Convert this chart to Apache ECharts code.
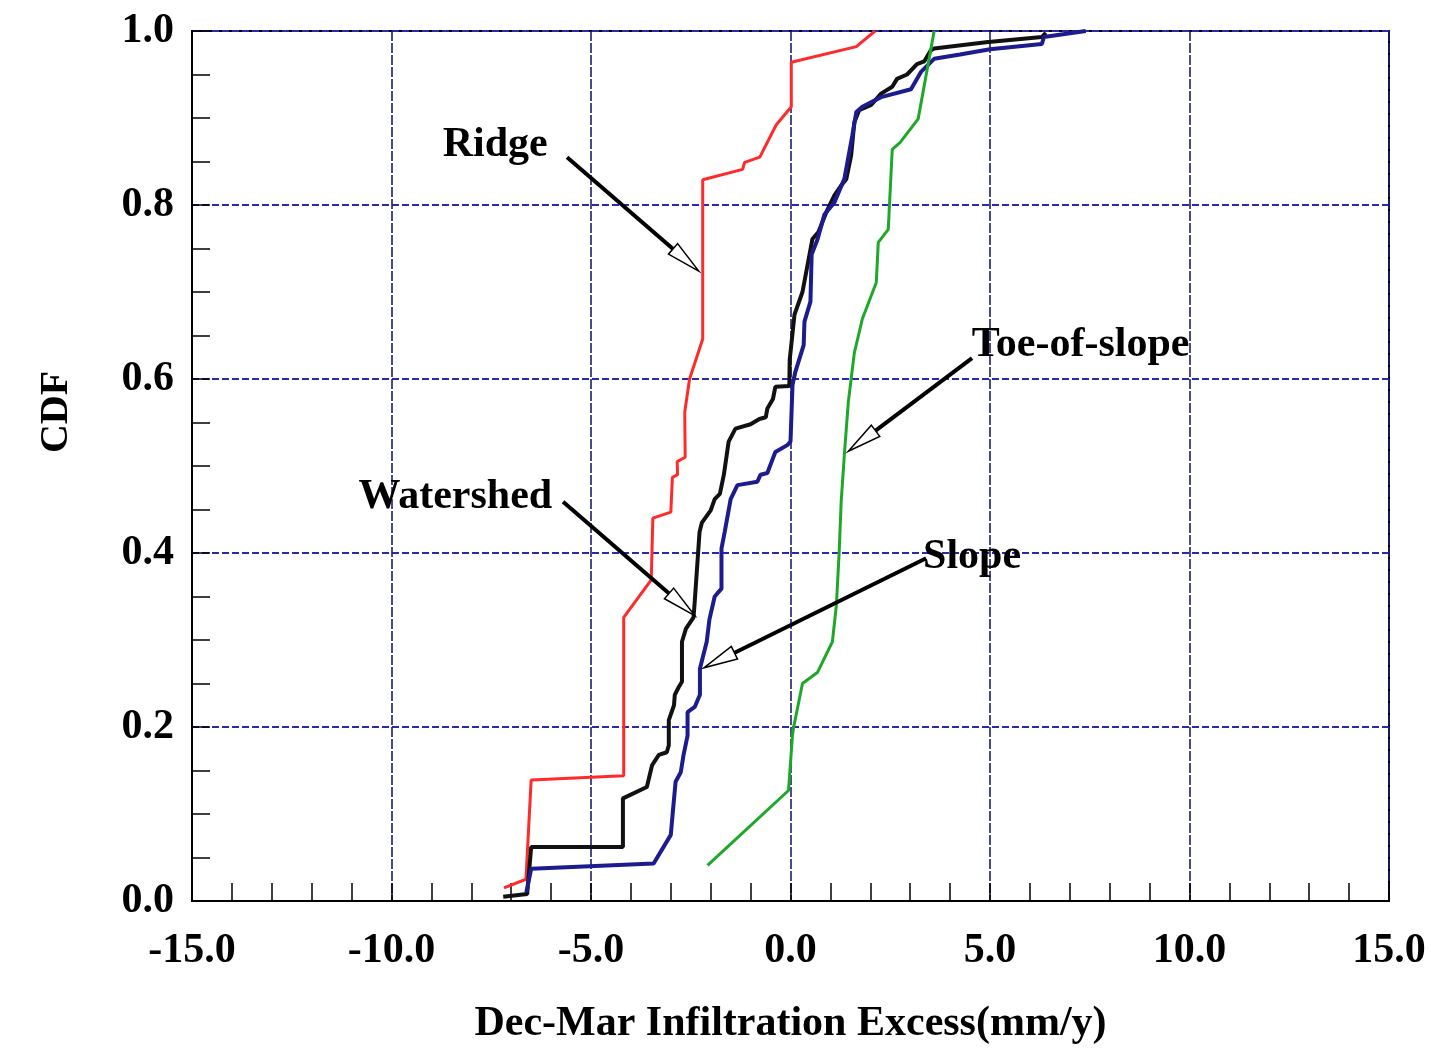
<!DOCTYPE html>
<html>
<head>
<meta charset="utf-8">
<script src="https://cdn.jsdelivr.net/npm/echarts@6/dist/echarts.min.js"></script>
<style>
html,body{margin:0;padding:0;background:#fff;}
#chart{width:1442px;height:1052px;}
</style>
</head>
<body>
<div id="chart"></div>
<script>
// ---- Data ----
const xTicks = [-15, -10, -5, 0, 5, 10, 15];
const yTicks = [0, 0.2, 0.4, 0.6, 0.8, 1.0];

const ridge = [[-7.18,0.015],[-6.63,0.025],[-6.5,0.139],[-4.18,0.144],[-4.18,0.326],[-3.49,0.369],[-3.45,0.44],[-3.0,0.447],[-2.96,0.487],[-2.83,0.49],[-2.84,0.505],[-2.64,0.51],[-2.65,0.562],[-2.53,0.60],[-2.2,0.646],[-2.2,0.829],[-1.2,0.841],[-1.15,0.849],[-0.77,0.855],[-0.36,0.892],[0.02,0.913],[0.02,0.964],[1.65,0.982],[2.12,1.0]];

const watershed = [[-7.2,0.005],[-6.6,0.008],[-6.5,0.062],[-4.2,0.062],[-4.2,0.118],[-3.6,0.131],[-3.47,0.156],[-3.3,0.168],[-3.1,0.171],[-3.05,0.179],[-3.05,0.208],[-2.92,0.225],[-2.9,0.237],[-2.8,0.246],[-2.72,0.252],[-2.72,0.298],[-2.62,0.313],[-2.43,0.326],[-2.4,0.344],[-2.28,0.424],[-2.22,0.435],[-2.0,0.449],[-1.9,0.462],[-1.77,0.468],[-1.67,0.49],[-1.55,0.528],[-1.38,0.543],[-1.0,0.548],[-0.78,0.554],[-0.62,0.556],[-0.58,0.566],[-0.44,0.577],[-0.38,0.591],[-0.03,0.592],[-0.02,0.622],[0.1,0.674],[0.3,0.70],[0.55,0.761],[0.7,0.769],[0.83,0.784],[0.93,0.795],[1.1,0.811],[1.28,0.823],[1.4,0.83],[1.52,0.857],[1.6,0.895],[1.72,0.909],[2.02,0.915],[2.27,0.928],[2.55,0.936],[2.67,0.945],[2.92,0.95],[3.17,0.962],[3.35,0.965],[3.52,0.978],[3.6,0.98],[4.9,0.987],[6.3,0.993],[6.4,0.998]];

const slope = [[-6.62,0.01],[-6.5,0.037],[-3.43,0.043],[-3.0,0.076],[-2.95,0.102],[-2.88,0.137],[-2.75,0.148],[-2.68,0.168],[-2.58,0.19],[-2.58,0.217],[-2.4,0.223],[-2.27,0.237],[-2.27,0.267],[-2.1,0.298],[-2.03,0.324],[-1.9,0.35],[-1.73,0.359],[-1.73,0.405],[-1.65,0.424],[-1.5,0.462],[-1.33,0.478],[-0.83,0.482],[-0.75,0.49],[-0.58,0.492],[-0.38,0.516],[-0.08,0.524],[0.0,0.528],[0.05,0.593],[0.12,0.608],[0.33,0.639],[0.35,0.666],[0.5,0.689],[0.53,0.743],[0.68,0.761],[0.85,0.789],[1.1,0.803],[1.35,0.83],[1.43,0.85],[1.55,0.88],[1.65,0.907],[1.8,0.913],[2.27,0.924],[3.02,0.933],[3.27,0.953],[3.6,0.968],[4.25,0.973],[5.0,0.979],[6.3,0.985],[6.35,0.993],[7.4,1.0]];

const toeOfSlope = [[-2.08,0.041],[-0.05,0.127],[0.05,0.191],[0.08,0.2],[0.3,0.25],[0.68,0.263],[1.05,0.298],[1.15,0.34],[1.22,0.401],[1.27,0.459],[1.35,0.513],[1.45,0.574],[1.6,0.63],[1.8,0.669],[2.15,0.711],[2.2,0.757],[2.45,0.772],[2.55,0.864],[2.75,0.872],[3.2,0.899],[3.6,1.0]];

// annotation labels: text position, arrow start, arrow tip (data coordinates)
const annLabels = ['Ridge', 'Watershed', 'Toe-of-slope', 'Slope'];
const annText   = [[-7.4,0.869],[-8.4,0.464],[7.27,0.639],[4.55,0.395]];
const annFrom   = [[-5.6,0.855],[-5.7,0.459],[4.55,0.624],[3.4,0.394]];
const annTo     = [[-2.3,0.724],[-2.4,0.328],[1.45,0.517],[-2.17,0.268]];

// ---- Chart ----
const FONT = '"Liberation Serif", "Times New Roman", serif';
const chart = echarts.init(document.getElementById('chart'), null, {renderer: 'canvas'});

function lineSeries(name, data, color, width) {
  return {
    name: name, type: 'line', data: data, showSymbol: false, symbol: 'none',
    lineStyle: {color: color, width: width}, z: 3, animation: false
  };
}

const option = {
  animation: false,
  backgroundColor: '#ffffff',
  grid: {left: 192, right: 53, top: 31, bottom: 151, show: true, borderColor: '#000', borderWidth: 2},
  xAxis: {
    type: 'value', min: xTicks[0], max: xTicks[xTicks.length-1], interval: 5,
    axisLine: {show: true, onZero: false, lineStyle: {color: '#000', width: 2}},
    axisTick: {show: true, inside: true, length: 18, lineStyle: {color: '#000', width: 1.5}},
    minorTick: {show: true, splitNumber: 5, length: 18, lineStyle: {color: '#000', width: 1.5}},
    splitLine: {show: true, lineStyle: {color: '#1e1e70', width: 1.6, type: [10, 2]}},
    axisLabel: {color: '#000', fontFamily: FONT, fontWeight: 'bold', fontSize: 42, margin: 29,
      formatter: v => v.toFixed(1)},
    name: 'Dec-Mar Infiltration Excess(mm/y)', nameLocation: 'middle', nameGap: 102,
    nameTextStyle: {color: '#000', fontFamily: FONT, fontWeight: 'bold', fontSize: 42}
  },
  yAxis: {
    type: 'value', min: yTicks[0], max: yTicks[yTicks.length-1], interval: 0.2,
    axisLine: {show: true, onZero: false, lineStyle: {color: '#000', width: 2}},
    axisTick: {show: true, inside: true, length: 18, lineStyle: {color: '#000', width: 1.5}},
    minorTick: {show: true, splitNumber: 4, length: 18, lineStyle: {color: '#000', width: 1.5}},
    splitLine: {show: true, lineStyle: {color: '#2a2ab0', width: 2, type: [7, 3]}},
    axisLabel: {color: '#000', fontFamily: FONT, fontWeight: 'bold', fontSize: 42, margin: 18,
      formatter: v => v.toFixed(1)}
  },
  graphic: [{
    type: 'text', x: 57, y: 412, rotation: Math.PI / 2,
    style: {text: 'CDF', fill: '#000', font: 'bold 40px ' + FONT, textAlign: 'center', textVerticalAlign: 'middle'}
  }],
  series: [
    lineSeries('Ridge', ridge, '#ff2b2b', 3),
    lineSeries('Watershed', watershed, '#111111', 4),
    lineSeries('Slope', slope, '#1c1c8e', 4),
    lineSeries('Toe-of-slope', toeOfSlope, '#1ea82a', 3),
    {
      type: 'custom', name: 'annotations', z: 5, clip: false,
      data: annText.map(p => [p[0], p[1]]),
      encode: {x: 0, y: 1},
      renderItem: function (params, api) {
        const i = params.dataIndex;
        const t = api.coord(annText[i]);
        const f = api.coord(annFrom[i]);
        const p = api.coord(annTo[i]);
        const dx = p[0] - f[0], dy = p[1] - f[1];
        const len = Math.sqrt(dx*dx + dy*dy);
        const ux = dx/len, uy = dy/len;
        const L = 34, W = 7;
        const bx = p[0] - ux*L, by = p[1] - uy*L;
        const nx = -uy, ny = ux;
        return {
          type: 'group',
          children: [
            {type: 'line', shape: {x1: f[0], y1: f[1], x2: bx + ux*2, y2: by + uy*2},
             style: {stroke: '#000', lineWidth: 4}},
            {type: 'polygon', shape: {points: [[p[0], p[1]], [bx + nx*W, by + ny*W], [bx - nx*W, by - ny*W]]},
             style: {fill: '#fff', stroke: '#000', lineWidth: 1.5}},
            {type: 'text', x: t[0], y: t[1],
             style: {text: annLabels[i], fill: '#000', font: 'bold 42px ' + FONT, textAlign: 'center', textVerticalAlign: 'middle'}}
          ]
        };
      }
    }
  ]
};
chart.setOption(option);
</script>
</body>
</html>
